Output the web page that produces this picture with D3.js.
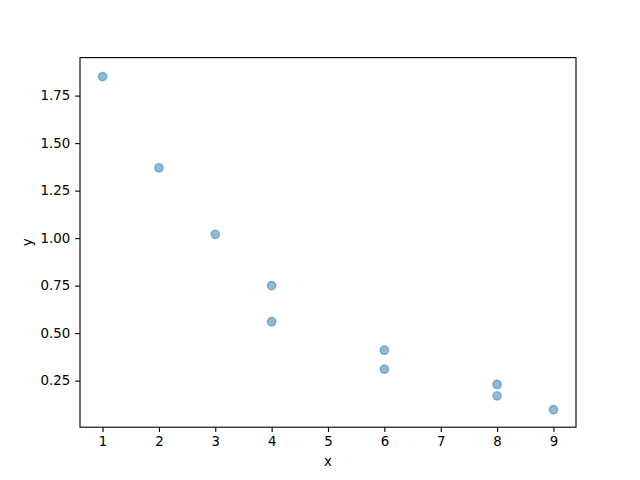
<!DOCTYPE html>
<html>
<head>
<meta charset="utf-8">
<script src="https://cdn.jsdelivr.net/npm/d3@7"></script>
<style>
  body { margin: 0; background: #fff; }
  svg { font-family: "DejaVu Sans", sans-serif; }
</style>
</head>
<body>
<div id="chart"></div>
<script>
// data
const xValues = [1, 2, 3, 4, 4, 6, 6, 8, 8, 9]
const yValues = [1.85, 1.37, 1.02, 0.75, 0.56, 0.41, 0.31, 0.23, 0.17, 0.097]
const xTicks = [1, 2, 3, 4, 5, 6, 7, 8, 9]
const yTicks = [0.25, 0.5, 0.75, 1.0, 1.25, 1.5, 1.75]
const yLimits = [0.005, 1.95]

const W = 640, H = 480
const margin = { top: 57.6, right: 64, bottom: 52.8, left: 80 }
const width = W - margin.left - margin.right
const height = H - margin.top - margin.bottom

const pad = (lo, hi) => [lo - (hi - lo) * 0.05, hi + (hi - lo) * 0.05]

const x = d3.scaleLinear()
  .domain(pad(d3.min(xValues), d3.max(xValues)))
  .range([0, width])

const y = d3.scaleLinear()
  .domain(yLimits)
  .range([height, 0])

const svg = d3.select("#chart")
  .append("svg")
  .attr("width", W)
  .attr("height", H)
  .append("g")
  .attr("transform", "translate(" + margin.left + "," + margin.top + ")")

const tick = 4.86

// x axis
const xAxis = svg.append("g")
  .attr("transform", "translate(0," + height + ")")
  .call(d3.axisBottom(x).tickValues(xTicks).tickFormat(d3.format("d"))
    .tickSize(tick).tickPadding(4.86))
// y axis
const yAxis = svg.append("g")
  .call(d3.axisLeft(y).tickValues(yTicks).tickFormat(d3.format(".2f"))
    .tickSize(tick).tickPadding(4.86))

;[xAxis, yAxis].forEach(function(g) {
  g.select(".domain").remove()
  g.selectAll(".tick line").attr("stroke", "#000").attr("stroke-width", 1.11)
  g.selectAll(".tick text")
    .attr("fill", "#000")
    .style("font-size", "13.33px")
    .style("font-family", "DejaVu Sans, sans-serif")
})

// frame
svg.append("rect")
  .attr("width", width)
  .attr("height", height)
  .attr("fill", "none")
  .attr("stroke", "#000")
  .attr("stroke-width", 1.11)

// points
svg.selectAll(".dot")
  .data(xValues.map((d, i) => [d, yValues[i]]))
  .enter()
  .append("circle")
  .attr("class", "dot")
  .attr("cx", d => x(d[0]))
  .attr("cy", d => y(d[1]))
  .attr("r", 4.17)
  .attr("fill", "#1f77b4")
  .attr("fill-opacity", 0.5)
  .attr("stroke", "#1f77b4")
  .attr("stroke-opacity", 0.5)
  .attr("stroke-width", 1.39)

// axis labels
svg.append("text")
  .attr("x", width / 2)
  .attr("y", height + 38.5)
  .attr("text-anchor", "middle")
  .style("font-size", "13.33px")
  .text("x")

svg.append("text")
  .attr("transform", "translate(" + (-48) + "," + (height / 2) + ") rotate(-90)")
  .attr("text-anchor", "middle")
  .style("font-size", "13.33px")
  .text("y")
</script>
</body>
</html>
